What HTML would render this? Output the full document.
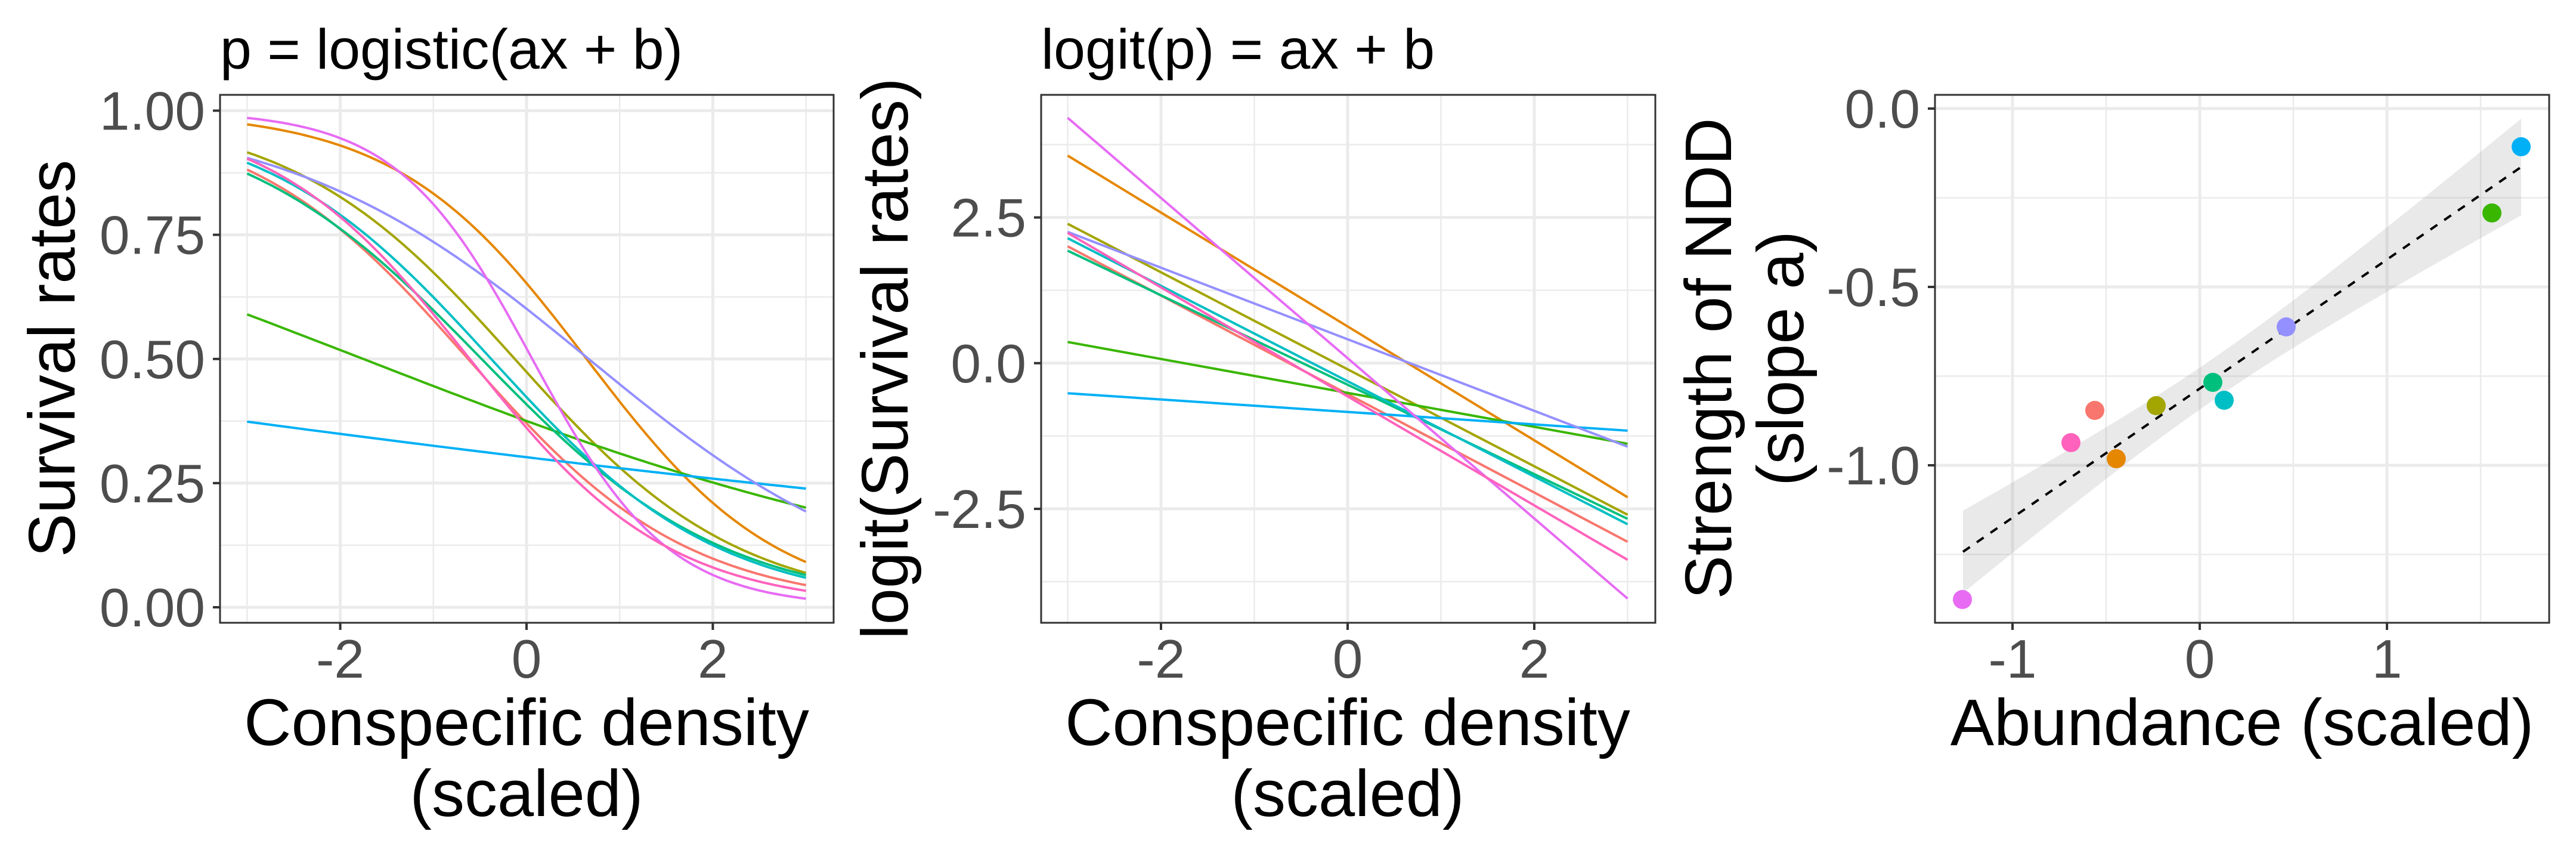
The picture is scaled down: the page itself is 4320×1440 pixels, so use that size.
<!DOCTYPE html>
<html><head><meta charset="utf-8">
<style>
html,body{margin:0;padding:0;background:#fff;}
svg{display:block;font-family:"Liberation Sans",Arial,sans-serif;}
</style></head>
<body>
<svg id="s" width="4320" height="1440" viewBox="0 0 4320 1440" xmlns="http://www.w3.org/2000/svg">
<rect width="4320" height="1440" fill="#fff"/>
<g id="g"></g>
<text x="369" y="115" font-size="95">p = logistic(ax + b)</text>
<text x="1746" y="115" font-size="95">logit(p) = ax + b</text>
<text x="883" y="1249" font-size="110" text-anchor="middle">Conspecific density</text>
<text x="883" y="1368" font-size="110" text-anchor="middle">(scaled)</text>
<text x="2260" y="1249" font-size="110" text-anchor="middle">Conspecific density</text>
<text x="2260" y="1368" font-size="110" text-anchor="middle">(scaled)</text>
<text x="3760" y="1249" font-size="110" text-anchor="middle">Abundance (scaled)</text>
<text transform="translate(125,601) rotate(-90)" font-size="110" text-anchor="middle">Survival rates</text>
<text transform="translate(1522,601) rotate(-90)" font-size="110" text-anchor="middle">logit(Survival rates)</text>
<text transform="translate(2903,601) rotate(-90)" font-size="110" text-anchor="middle">Strength of NDD</text>
<text transform="translate(3024,601) rotate(-90)" font-size="110" text-anchor="middle">(slope a)</text>
</svg>
<script>
const NS="http://www.w3.org/2000/svg";
const g=document.getElementById('g');
function el(t,a,txt){const e=document.createElementNS(NS,t);for(const k in a)e.setAttribute(k,a[k]);if(txt!==undefined)e.textContent=txt;g.appendChild(e);return e;}
function panel(L,R,T,B,xmaj,xmin,xpx,ymaj,ymin,ypx,ylab,xlab){
  ymin.forEach(v=>el('line',{x1:L,x2:R,y1:ypx(v),y2:ypx(v),stroke:'#EBEBEB','stroke-width':2.5}));
  xmin.forEach(v=>{const x=xpx(v);if(x>L&&x<R)el('line',{x1:x,x2:x,y1:T,y2:B,stroke:'#EBEBEB','stroke-width':2.5});});
  ymaj.forEach(v=>el('line',{x1:L,x2:R,y1:ypx(v),y2:ypx(v),stroke:'#EBEBEB','stroke-width':5}));
  xmaj.forEach(v=>el('line',{x1:xpx(v),x2:xpx(v),y1:T,y2:B,stroke:'#EBEBEB','stroke-width':5}));
  ymaj.forEach((v,i)=>{const y=ypx(v);el('line',{x1:L-12,x2:L,y1:y,y2:y,stroke:'#333','stroke-width':4});
    el('text',{x:L-25,y:y+32,'font-size':91,'text-anchor':'end',fill:'#4D4D4D'},ylab[i]);});
  xmaj.forEach((v,i)=>{const x=xpx(v);el('line',{x1:x,x2:x,y1:B,y2:B+12,stroke:'#333','stroke-width':4});
    el('text',{x:x,y:1136,'font-size':91,'text-anchor':'middle',fill:'#4D4D4D'},xlab[i]);});
}
const series=[
 ['#F8766D',-0.845,-0.53],['#E58700',-0.977,0.63],['#A3A500',-0.832,-0.105],
 ['#39B600',-0.291,-0.51],['#00BF7D',-0.767,-0.37],['#00BFC4',-0.818,-0.31],
 ['#00B0F6',-0.107,-0.837],['#9590FF',-0.614,0.41],['#E76BF3',-1.375,0.085],['#FF62BC',-0.935,-0.57]];
{const L=369,R=1398,T=159,B=1044;const xp=v=>883+156.2*v, yp=v=>1018-832.5*v;
 panel(L,R,T,B,[-2,0,2],[-3,-1,1,3],xp,[0,0.25,0.5,0.75,1],[0.125,0.375,0.625,0.875],yp,['0.00','0.25','0.50','0.75','1.00'],['-2','0','2']);
 series.forEach(s=>{let d='';for(let i=0;i<=120;i++){const x=-3+6*i/120;const p=1/(1+Math.exp(-(s[1]*x+s[2])));d+=(i?'L':'M')+xp(x).toFixed(1)+','+yp(p).toFixed(1);}
  el('path',{d:d,fill:'none',stroke:s[0],'stroke-width':4});});
 el('rect',{x:L,y:T,width:R-L,height:B-T,fill:'none',stroke:'#333','stroke-width':3});}
{const L=1746,R=2776,T=159,B=1044;const xp=v=>2260+156.5*v, yp=v=>608.8-97.7*v;
 panel(L,R,T,B,[-2,0,2],[-3,-1,1,3],xp,[-2.5,0,2.5],[-3.75,-1.25,1.25,3.75],yp,['-2.5','0.0','2.5'],['-2','0','2']);
 series.forEach(s=>{el('line',{x1:xp(-3),y1:yp(s[1]*-3+s[2]),x2:xp(3),y2:yp(s[1]*3+s[2]),stroke:s[0],'stroke-width':4});});
 el('rect',{x:L,y:T,width:R-L,height:B-T,fill:'none',stroke:'#333','stroke-width':3});}
{const L=3245,R=4275,T=159,B=1044;const xp=v=>3689+314*v, yp=v=>182-598*v;
 panel(L,R,T,B,[-1,0,1],[-1.5,-0.5,0.5,1.5],xp,[-1,-0.5,0],[-1.25,-0.75,-0.25],yp,['-1.0','-0.5','0.0'],['-1','0','1']);
 const x0=3292,y0=925,x1=4228,y1=280,xm=3712;const cy=x=>y0+(y1-y0)*(x-x0)/(x1-x0);const w=x=>Math.sqrt(1227+0.02003*(x-xm)*(x-xm));
 let up='',lo='';for(let i=0;i<=80;i++){const x=x0+(x1-x0)*i/80;up+=(i?'L':'M')+x.toFixed(1)+','+(cy(x)-w(x)).toFixed(1);}
 for(let i=80;i>=0;i--){const x=x0+(x1-x0)*i/80;lo+='L'+x.toFixed(1)+','+(cy(x)+w(x)).toFixed(1);}
 el('path',{d:up+lo+'Z',fill:'#999','fill-opacity':0.22,stroke:'none'});
 el('line',{x1:x0,y1:y0,x2:x1,y2:y1,stroke:'#000','stroke-width':4,'stroke-dasharray':'14,14'});
 const pts=[['#E76BF3',3291,1005],['#FF62BC',3473,742],['#F8766D',3513,688],['#E58700',3549,769],['#A3A500',3616,680],
  ['#00BF7D',3711,641],['#00BFC4',3730,671],['#9590FF',3834,548],['#39B600',4179,357],['#00B0F6',4228,246]];
 pts.forEach(p=>el('circle',{cx:p[1],cy:p[2],r:16,fill:p[0]}));
 el('rect',{x:L,y:T,width:R-L,height:B-T,fill:'none',stroke:'#333','stroke-width':3});}
</script>
</body></html>
